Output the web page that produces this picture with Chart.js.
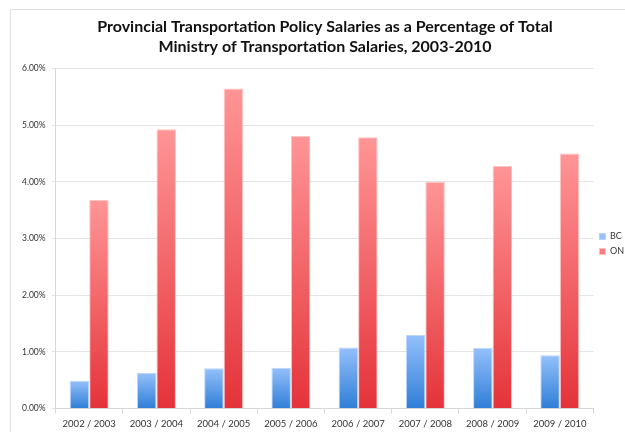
<!DOCTYPE html>
<html>
<head>
<meta charset="utf-8">
<script src="https://cdn.jsdelivr.net/npm/chart.js@4.4.0/dist/chart.umd.min.js"></script>
<style>
  html, body { margin: 0; padding: 0; background: #fff; overflow: hidden; }
  #frame { position: absolute; left: 10px; top: 9px; width: 700px; height: 500px; border: 1px solid #e2e2e2; }
  #wrap { position: absolute; left: 0; top: 0; width: 634px; height: 435px; }
</style>
</head>
<body>
<div id="frame"></div>
<div id="wrap"><canvas id="chart"></canvas></div>
<script>
const years = ['2002 / 2003', '2003 / 2004', '2004 / 2005', '2005 / 2006',
               '2006 / 2007', '2007 / 2008', '2008 / 2009', '2009 / 2010'];
const bcValues = [0.49, 0.63, 0.71, 0.72, 1.08, 1.30, 1.07, 0.94];
const onValues = [3.68, 4.93, 5.65, 4.81, 4.79, 4.00, 4.28, 4.50];
const titleLines = ['Provincial Transportation Policy Salaries as a Percentage of Total',
                    'Ministry of Transportation Salaries, 2003-2010'];

// vertical gradient from the top of each bar to the axis
function barGradient(light, dark) {
  return function (ctx) {
    const chart = ctx.chart;
    const y = chart.scales.y;
    if (!chart.chartArea || !y || ctx.raw == null) return dark;
    const top = y.getPixelForValue(ctx.raw);
    const base = y.getPixelForValue(0);
    const g = chart.ctx.createLinearGradient(0, top, 0, base);
    g.addColorStop(0, light);
    g.addColorStop(1, dark);
    return g;
  };
}

new Chart(document.getElementById('chart'), {
  type: 'bar',
  data: {
    labels: years,
    datasets: [
      { label: 'BC', data: bcValues, backgroundColor: barGradient('#94c0fb', '#2f7ed6'),
        borderColor: 'rgba(180,210,250,0.9)', borderWidth: 1 },
      { label: 'ON', data: onValues, backgroundColor: barGradient('#ff9596', '#e4333a'),
        borderColor: 'rgba(255,190,190,0.9)', borderWidth: 1 }
    ]
  },
  options: {
    responsive: true,
    maintainAspectRatio: false,
    animation: false,
    layout: { padding: { left: 16, right: 0, top: 8, bottom: 0 } },
    datasets: { bar: { categoryPercentage: 0.58, barPercentage: 1.0 } },
    plugins: {
      title: {
        display: true,
        text: titleLines,
        color: '#111',
        font: { family: 'Lato', size: 16, weight: 'bold', lineHeight: 1.3 },
        padding: { top: 8, bottom: 11 }
      },
      legend: {
        position: 'right',
        fullSize: false,
        title: { display: true, text: ' ', font: { size: 9 }, padding: 0 },
        labels: {
          boxWidth: 6, boxHeight: 6, padding: 6, color: '#333',
          font: { family: 'Lato', size: 9 }
        }
      },
      tooltip: { enabled: false }
    },
    scales: {
      x: {
        grid: { offset: true, drawOnChartArea: false, tickLength: 5, color: '#d8d8d8' },
        border: { color: '#d8d8d8' },
        ticks: { color: '#333', font: { family: 'Lato', size: 9.5 }, padding: 5, maxRotation: 0 }
      },
      y: {
        min: 0,
        max: 6,
        grid: { color: '#e4e4e4', tickLength: 4 },
        border: { color: '#d8d8d8' },
        ticks: {
          stepSize: 1, color: '#333', font: { family: 'Lato', size: 8.5 }, padding: 6,
          callback: v => v.toFixed(2) + '%'
        }
      }
    }
  }
});
</script>
</body>
</html>
